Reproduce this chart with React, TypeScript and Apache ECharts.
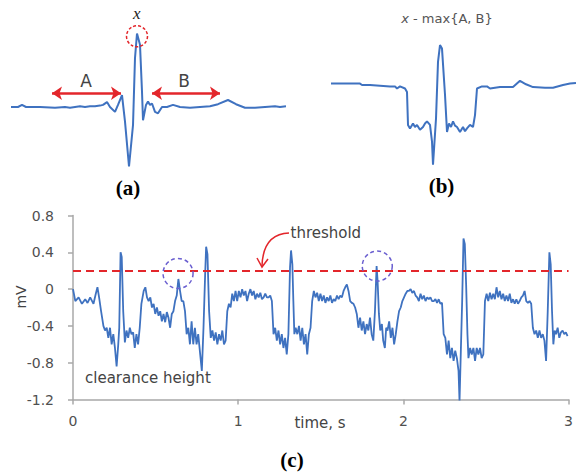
import React, { useEffect, useRef } from "react";
import * as echarts from "echarts";

// Panel (a): raw beat, x = relative sample position, y = amplitude (arb. units, baseline 0)
const beatRaw: [number, number][] = [
  [0, 0], [7, 0], [11, 0.03], [15, 0], [29, 0], [44, -0.01], [54, 0], [59, -0.01], [64, 0],
  [69, 0.01], [74, 0], [79, 0.01], [84, 0.01], [89, 0.02], [92, 0.03], [96, 0.07], [99, 0],
  [104, -0.07], [107, 0.03], [111, 0.17], [114, -0.21], [118, -0.85], [122, -0.26], [124, 0.7],
  [126, 1.05], [129, 0.89], [131, 0.22], [132, -0.19], [135, 0.03], [137, 0.08], [139, 0.03],
  [141, 0.05], [144, -0.07], [147, -0.09], [151, 0], [156, 0], [162, 0.03], [169, 0],
  [179, -0.01], [189, 0], [199, 0.01], [207, 0.04], [217, 0.1], [225, 0.04], [234, -0.01],
  [244, -0.01], [254, 0], [264, 0.01], [269, 0], [275, 0.01],
];

// Panel (b): x - max{A, B}
const beatDiff: [number, number][] = [
  [0, 0.02], [14, 0.02], [29, 0.02], [31, 0], [39, 0], [49, -0.01], [59, -0.02], [64, -0.02],
  [66, -0.05], [69, -0.02], [74, -0.05], [76, -0.1], [77, -0.57], [79, -0.62], [82, -0.55],
  [84, -0.6], [86, -0.57], [89, -0.64], [92, -0.6], [94, -0.55], [96, -0.52], [99, -0.57],
  [101, -0.81], [102, -1.14], [105, -0.48], [107, 0.33], [109, 0.57], [111, 0.52], [114, -0.14],
  [116, -0.67], [118, -0.55], [120, -0.6], [122, -0.52], [124, -0.58], [126, -0.6], [129, -0.67],
  [132, -0.6], [134, -0.66], [136, -0.62], [139, -0.57], [142, -0.6], [144, -0.43], [146, -0.05],
  [151, -0.02], [156, -0.02], [159, -0.05], [169, -0.03], [182, -0.03], [189, 0.06], [195, 0.01],
  [202, -0.03], [214, -0.04], [222, -0.04], [232, 0], [239, 0.02], [245, 0.03],
];

// Panel (c): ECG trace [time s, mV]
const ecgPoints: [number, number][] = [
  [0, 0], [0.014, -0.13], [0.034, -0.09], [0.054, -0.16], [0.074, -0.11], [0.088, -0.15],
  [0.104, -0.09], [0.124, -0.16], [0.138, -0.05], [0.148, 0.02], [0.158, -0.09], [0.17, -0.24],
  [0.184, -0.4], [0.194, -0.45], [0.204, -0.42], [0.214, -0.53], [0.224, -0.42], [0.234, -0.6],
  [0.244, -0.49], [0.254, -0.64], [0.264, -0.84], [0.274, -0.6], [0.28, -0.42], [0.288, 0.4],
  [0.295, 0.35], [0.304, -0.24], [0.314, -0.58], [0.324, -0.45], [0.334, -0.53], [0.344, -0.42],
  [0.354, -0.49], [0.364, -0.47], [0.374, -0.64], [0.384, -0.49], [0.394, -0.6], [0.404, -0.42],
  [0.414, -0.16], [0.428, -0.02], [0.438, 0.02], [0.448, -0.09], [0.458, -0.13], [0.468, -0.09],
  [0.478, -0.2], [0.488, -0.16], [0.498, -0.27], [0.508, -0.2], [0.518, -0.29], [0.528, -0.24],
  [0.538, -0.35], [0.548, -0.27], [0.558, -0.36], [0.568, -0.25], [0.578, -0.31], [0.588, -0.42],
  [0.598, -0.27], [0.608, -0.24], [0.618, -0.13], [0.628, -0.07], [0.638, 0.11], [0.648, -0.02],
  [0.658, -0.13], [0.668, -0.13], [0.678, -0.24], [0.688, -0.49], [0.698, -0.42], [0.708, -0.6],
  [0.718, -0.35], [0.728, -0.6], [0.738, -0.42], [0.748, -0.6], [0.758, -0.49], [0.77, -0.71],
  [0.78, -0.89], [0.79, -0.42], [0.8, 0.16], [0.806, 0.46], [0.814, 0.38], [0.824, -0.24],
  [0.834, -0.53], [0.844, -0.45], [0.854, -0.56], [0.864, -0.47], [0.874, -0.6], [0.884, -0.49],
  [0.894, -0.56], [0.904, -0.45], [0.914, -0.6], [0.924, -0.56], [0.934, -0.24], [0.944, -0.16],
  [0.954, -0.2], [0.964, -0.05], [0.974, -0.13], [0.984, -0.02], [0.994, -0.13], [1.004, -0.02],
  [1.014, -0.09], [1.024, 0], [1.034, -0.07], [1.044, -0.02], [1.054, -0.13], [1.064, -0.05],
  [1.074, 0], [1.084, -0.07], [1.094, -0.02], [1.104, -0.11], [1.114, -0.05], [1.124, -0.09],
  [1.134, -0.04], [1.144, -0.11], [1.154, -0.09], [1.164, -0.05], [1.174, -0.09], [1.184, -0.09],
  [1.194, -0.07], [1.204, -0.13], [1.214, -0.49], [1.224, -0.42], [1.234, -0.56], [1.244, -0.45],
  [1.254, -0.6], [1.264, -0.49], [1.274, -0.64], [1.284, -0.53], [1.294, -0.71], [1.304, -0.49],
  [1.314, 0.24], [1.32, 0.42], [1.328, 0.27], [1.334, -0.13], [1.34, -0.49], [1.348, -0.42],
  [1.358, -0.49], [1.368, -0.4], [1.378, -0.56], [1.388, -0.42], [1.398, -0.6], [1.408, -0.49],
  [1.418, -0.71], [1.428, -0.49], [1.438, -0.42], [1.448, -0.13], [1.458, -0.02], [1.468, -0.09],
  [1.478, -0.04], [1.488, -0.13], [1.498, -0.05], [1.508, -0.13], [1.518, -0.07], [1.528, -0.15],
  [1.538, -0.09], [1.548, -0.13], [1.558, -0.07], [1.568, -0.15], [1.578, -0.11], [1.588, -0.13],
  [1.598, -0.07], [1.608, -0.11], [1.618, -0.07], [1.628, -0.09], [1.638, -0.02], [1.648, 0.02],
  [1.658, 0.05], [1.668, -0.02], [1.678, -0.13], [1.688, -0.15], [1.698, -0.16], [1.708, -0.2],
  [1.718, -0.27], [1.728, -0.42], [1.738, -0.31], [1.748, -0.45], [1.758, -0.35], [1.768, -0.49],
  [1.778, -0.38], [1.788, -0.45], [1.798, -0.31], [1.808, -0.49], [1.818, -0.56], [1.828, -0.24],
  [1.838, 0.25], [1.844, 0.09], [1.852, -0.27], [1.86, -0.45], [1.87, -0.38], [1.878, -0.56],
  [1.888, -0.64], [1.896, -0.42], [1.904, -0.45], [1.914, -0.35], [1.924, -0.53], [1.934, -0.42],
  [1.944, -0.6], [1.954, -0.49], [1.964, -0.35], [1.974, -0.24], [1.984, -0.2], [1.994, -0.13],
  [2.004, -0.09], [2.014, -0.05], [2.024, -0.02], [2.034, -0.02], [2.044, 0], [2.054, -0.04],
  [2.064, -0.02], [2.074, -0.07], [2.084, -0.09], [2.094, -0.13], [2.104, -0.05], [2.114, -0.11],
  [2.124, -0.07], [2.134, -0.13], [2.144, -0.09], [2.154, -0.11], [2.164, -0.09], [2.174, -0.13],
  [2.184, -0.13], [2.194, -0.11], [2.204, -0.15], [2.214, -0.11], [2.224, -0.16], [2.234, -0.15],
  [2.244, -0.49], [2.254, -0.53], [2.264, -0.71], [2.274, -0.56], [2.284, -0.75], [2.294, -0.64],
  [2.304, -0.78], [2.314, -0.67], [2.324, -0.75], [2.334, -0.89], [2.34, -1.22], [2.348, -0.67],
  [2.356, -0.13], [2.364, 0.55], [2.372, 0.49], [2.38, 0.05], [2.388, -0.49], [2.394, -0.75],
  [2.404, -0.64], [2.414, -0.71], [2.424, -0.64], [2.434, -0.78], [2.444, -0.64], [2.454, -0.71],
  [2.464, -0.64], [2.474, -0.75], [2.484, -0.71], [2.494, -0.13], [2.504, -0.05], [2.514, -0.13],
  [2.524, -0.04], [2.534, -0.11], [2.544, -0.05], [2.554, -0.11], [2.564, 0.02], [2.574, -0.09],
  [2.584, -0.02], [2.594, -0.11], [2.604, -0.05], [2.614, -0.13], [2.624, -0.07], [2.634, -0.13],
  [2.644, -0.05], [2.654, -0.15], [2.664, -0.11], [2.674, -0.16], [2.684, -0.11], [2.694, -0.16],
  [2.704, -0.13], [2.714, -0.09], [2.724, -0.07], [2.734, -0.02], [2.744, -0.13], [2.754, -0.15],
  [2.764, -0.13], [2.774, -0.16], [2.784, -0.42], [2.794, -0.49], [2.804, -0.45], [2.814, -0.53],
  [2.824, -0.45], [2.834, -0.53], [2.844, -0.49], [2.854, -0.56], [2.864, -0.78], [2.874, -0.24],
  [2.884, 0.4], [2.892, 0.27], [2.9, -0.24], [2.908, -0.6], [2.916, -0.45], [2.924, -0.49],
  [2.934, -0.42], [2.944, -0.53], [2.954, -0.47], [2.964, -0.45], [2.974, -0.49], [2.984, -0.47],
  [2.994, -0.51],
];

const thresholdMv = 0.2;
const missedPeaks: [number, number][] = [[0.636, 0.17], [1.842, 0.25]];
const peakMark: [number, number] = [126, 1.01];
const rangeA: [number, number] = [41, 110];
const rangeB: [number, number] = [141, 209];
const arrowLevel = 0.196;
const xTicks = [0, 1, 2, 3];
const yTicks = [-1.2, -0.8, -0.4, 0, 0.4, 0.8];

const BLUE = "#3f72c0";
const RED = "#e3262b";
const FONT = "DejaVu Sans";
const SERIF = "Liberation Serif";

export default function App() {
  const ref = useRef<HTMLDivElement>(null);
  useEffect(() => {
    if (!ref.current) return;
    const chart = echarts.init(ref.current, null, { renderer: "svg" });
    const txt = (text: string, x: number, y: number, extra: any = {}) => ({
      type: "text",
      x,
      y,
      style: {
        text,
        fill: "#444",
        font: `15px "${FONT}"`,
        align: "center",
        verticalAlign: "middle",
        textAlign: "center",
        textVerticalAlign: "middle",
        ...extra,
      },
    });
    chart.setOption({
      animation: false,
      backgroundColor: "#fff",
      grid: [
        { left: 11, top: 30, width: 275, height: 140 },
        { left: 331, top: 29, width: 245, height: 140 },
        { left: 73, top: 215.5, right: 3.5, bottom: 73.5 },
      ],
      xAxis: [
        { gridIndex: 0, type: "value", min: 0, max: 275, show: false },
        { gridIndex: 1, type: "value", min: 0, max: 245, show: false },
        {
          gridIndex: 2,
          type: "value",
          min: xTicks[0],
          max: xTicks[xTicks.length - 1],
          interval: 1,
          axisLine: { show: true, onZero: false, lineStyle: { color: "#a8a8a8", width: 1.5 } },
          axisTick: { show: true, length: 5, lineStyle: { color: "#a8a8a8", width: 1.5 } },
          splitLine: { show: false },
          axisLabel: { color: "#505050", fontSize: 14, fontFamily: FONT, margin: 14 },
        },
      ],
      yAxis: [
        { gridIndex: 0, type: "value", min: -0.9, max: 1.1, show: false },
        { gridIndex: 1, type: "value", min: -1.2, max: 0.8, show: false },
        {
          gridIndex: 2,
          type: "value",
          min: yTicks[0],
          max: yTicks[yTicks.length - 1],
          interval: 0.4,
          axisLine: { show: true, onZero: false, lineStyle: { color: "#a8a8a8", width: 1.5 } },
          axisTick: { show: true, length: 5, lineStyle: { color: "#a8a8a8", width: 1.5 } },
          splitLine: { show: false },
          axisLabel: {
            color: "#505050",
            fontSize: 14,
            fontFamily: FONT,
            margin: 19,
            formatter: (v: number) => String(Math.round(v * 10) / 10),
          },
        },
      ],
      series: [
        {
          type: "line",
          xAxisIndex: 0,
          yAxisIndex: 0,
          data: beatRaw,
          symbol: "none",
          lineStyle: { color: BLUE, width: 2 },
          markLine: {
            silent: true,
            symbol: ["arrow", "arrow"],
            symbolSize: 10,
            label: { show: false },
            lineStyle: { color: RED, width: 2.5, type: "solid" },
            data: [
              [{ coord: [rangeA[0], arrowLevel] }, { coord: [rangeA[1], arrowLevel] }],
              [{ coord: [rangeB[0], arrowLevel] }, { coord: [rangeB[1], arrowLevel] }],
            ],
          },
          markPoint: {
            silent: true,
            symbol: "circle",
            symbolSize: 21,
            label: { show: false },
            itemStyle: { color: "rgba(0,0,0,0)", borderColor: RED, borderWidth: 1.5, borderType: [3, 2] },
            data: [{ coord: peakMark }],
          },
        },
        {
          type: "line",
          xAxisIndex: 1,
          yAxisIndex: 1,
          data: beatDiff,
          symbol: "none",
          lineStyle: { color: BLUE, width: 2 },
        },
        {
          type: "line",
          xAxisIndex: 2,
          yAxisIndex: 2,
          data: ecgPoints,
          symbol: "none",
          lineStyle: { color: BLUE, width: 1.8 },
          markLine: {
            silent: true,
            symbol: "none",
            label: { show: false },
            lineStyle: { color: RED, width: 2, type: [8, 5] },
            data: [{ yAxis: thresholdMv }],
          },
          markPoint: {
            silent: true,
            symbol: "circle",
            symbolSize: 30,
            label: { show: false },
            itemStyle: { color: "rgba(0,0,0,0)", borderColor: "#6a5fd0", borderWidth: 1.5, borderType: [4, 3] },
            data: missedPeaks.map((p) => ({ coord: p })),
          },
        },
      ],
      graphic: [
        txt("x", 136.7, 13, { font: `italic 17px "${SERIF}"`, fill: "#222" }),
        txt("A", 86, 81, { font: `17px "${FONT}"` }),
        txt("B", 184, 81, { font: `17px "${FONT}"` }),
        txt("(a)", 128, 188, { font: `bold 21px "${SERIF}"`, fill: "#000" }),
        {
          type: "text",
          x: 447,
          y: 18,
          style: {
            text: "{i|x}{n| - max{A, B}}",
            fill: "#555",
            fontSize: 13,
            fontFamily: FONT,
            align: "center",
            verticalAlign: "middle",
            rich: {
              i: { fontStyle: "italic", fontSize: 13, fontFamily: FONT, fill: "#555" },
              n: { fontSize: 13, fontFamily: FONT, fill: "#555" },
            },
          },
        },
        txt("(b)", 441.5, 186, { font: `bold 21px "${SERIF}"`, fill: "#000" }),
        txt("(c)", 292, 460, { font: `bold 21px "${SERIF}"`, fill: "#000" }),
        txt("clearance height", 85, 378, { align: "left", textAlign: "left" }),
        txt("threshold", 290.5, 233, { align: "left", textAlign: "left" }),
        txt("time, s", 320, 423),
        { ...txt("mV", 21, 297, { font: `14px "${FONT}"` }), rotation: Math.PI / 2 },
        {
          type: "bezierCurve",
          shape: { x1: 289, y1: 233, x2: 262, y2: 266, cpx1: 263, cpy1: 234 },
          style: { stroke: RED, lineWidth: 1.5, fill: "none" },
        },
        {
          type: "polyline",
          shape: { points: [[257, 258], [262, 267], [268, 259]] },
          style: { stroke: RED, lineWidth: 1.5, fill: "none" },
        },
      ],
    });
    return () => chart.dispose();
  }, []);
  return (
    <div
      ref={ref}
      style={{ position: "fixed", left: 0, top: 0, width: 576, height: 473, background: "#fff" }}
    />
  );
}
